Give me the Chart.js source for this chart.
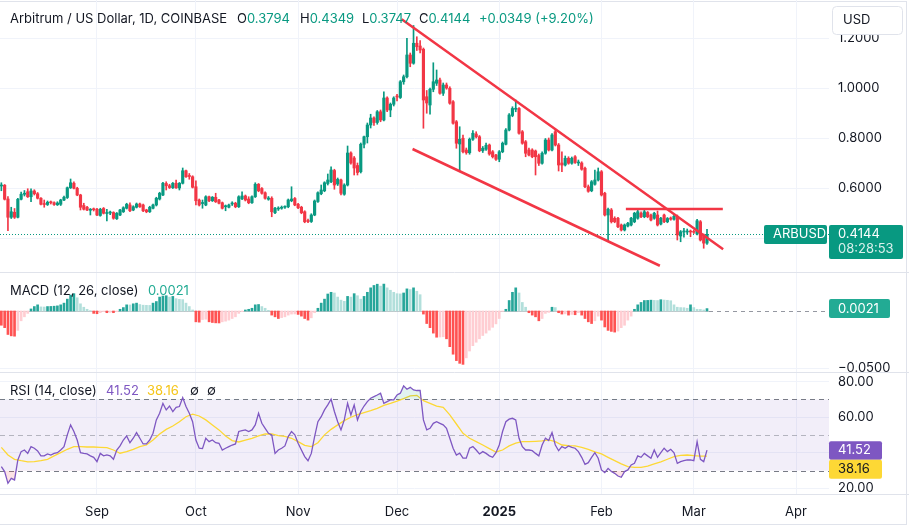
<!DOCTYPE html>
<html>
<head>
<meta charset="utf-8">
<script src="https://cdn.jsdelivr.net/npm/chart.js@4.4.1/dist/chart.umd.min.js"></script>
<style>
  html, body { margin: 0; padding: 0; background: #fff; }
  #wrap { position: relative; width: 909px; height: 526px; overflow: hidden; }
  #frame { position: absolute; left: -1px; top: 1px; width: 908px; height: 524px; border: 1px solid #e0e3eb; box-sizing: border-box; }
  canvas { position: absolute; left: 0; }
</style>
</head>
<body>
<div id="wrap">
  <div id="frame"></div>
  <canvas id="priceChart" width="909" height="272" style="top:0"></canvas>
  <canvas id="rsiChart" width="909" height="154" style="top:372px"></canvas>
  <canvas id="macdChart" width="909" height="110" style="top:272px"></canvas>
</div>
<script>
// daily candles, 3 Aug 2024 .. 5 Mar 2025 (x = day index)
const opens = [0.608,0.611,0.556,0.483,0.503,0.483,0.555,0.575,0.585,0.565,
  0.588,0.577,0.559,0.536,0.534,0.543,0.541,0.533,0.535,0.552,
  0.562,0.601,0.619,0.599,0.572,0.530,0.523,0.511,0.515,0.515,
  0.490,0.518,0.498,0.500,0.502,0.477,0.492,0.505,0.519,0.532,
  0.512,0.523,0.536,0.532,0.512,0.505,0.519,0.532,0.556,0.572,
  0.618,0.609,0.601,0.619,0.600,0.619,0.669,0.650,0.645,0.605,
  0.552,0.538,0.532,0.565,0.549,0.563,0.552,0.541,0.525,0.523,
  0.536,0.539,0.525,0.557,0.568,0.556,0.541,0.565,0.615,0.598,
  0.581,0.555,0.559,0.501,0.516,0.519,0.523,0.525,0.549,0.558,
  0.535,0.523,0.505,0.470,0.466,0.492,0.546,0.577,0.589,0.618,
  0.625,0.670,0.616,0.632,0.575,0.612,0.740,0.720,0.690,0.665,
  0.775,0.805,0.852,0.880,0.862,0.905,0.872,0.960,0.912,0.935,
  0.968,0.962,1.025,1.045,1.132,1.099,1.179,1.168,1.155,0.965,
  0.932,0.995,1.019,1.032,0.979,1.012,0.999,0.945,0.865,0.776,
  0.799,0.752,0.741,0.795,0.816,0.805,0.749,0.755,0.772,0.745,
  0.732,0.715,0.745,0.775,0.832,0.890,0.915,0.918,0.825,0.785,
  0.752,0.752,0.748,0.730,0.699,0.739,0.792,0.752,0.825,0.772,
  0.700,0.692,0.719,0.699,0.725,0.700,0.700,0.679,0.605,0.589,
  0.615,0.632,0.665,0.579,0.492,0.512,0.479,0.479,0.452,0.432,
  0.448,0.452,0.465,0.479,0.499,0.485,0.502,0.492,0.479,0.492,
  0.456,0.492,0.465,0.480,0.475,0.485,0.408,0.424,0.424,0.428,
  0.427,0.416,0.465,0.412,0.3794];
const highs = [0.621,0.614,0.566,0.523,0.518,0.559,0.584,0.590,0.597,0.597,
  0.593,0.582,0.562,0.552,0.548,0.548,0.545,0.545,0.555,0.568,
  0.604,0.636,0.625,0.603,0.575,0.539,0.527,0.518,0.520,0.519,
  0.519,0.522,0.515,0.508,0.505,0.502,0.515,0.525,0.539,0.541,
  0.529,0.540,0.540,0.536,0.515,0.527,0.536,0.563,0.583,0.623,
  0.625,0.615,0.622,0.632,0.622,0.680,0.672,0.658,0.649,0.629,
  0.556,0.552,0.569,0.568,0.566,0.579,0.555,0.544,0.532,0.536,
  0.545,0.543,0.569,0.585,0.572,0.565,0.569,0.621,0.618,0.602,
  0.585,0.566,0.565,0.523,0.525,0.528,0.529,0.556,0.605,0.562,
  0.539,0.527,0.509,0.476,0.497,0.552,0.585,0.612,0.625,0.656,
  0.685,0.675,0.640,0.636,0.617,0.768,0.745,0.726,0.700,0.780,
  0.808,0.860,0.895,0.885,0.910,0.912,0.985,0.965,0.940,0.965,
  0.975,1.030,1.052,1.199,1.140,1.250,1.205,1.190,1.160,0.990,
  1.000,1.101,1.072,1.040,1.020,1.020,1.005,0.950,0.870,0.845,
  0.812,0.760,0.800,0.830,0.825,0.810,0.766,0.780,0.776,0.750,
  0.735,0.750,0.784,0.838,0.898,0.925,0.952,0.922,0.830,0.790,
  0.760,0.757,0.752,0.736,0.745,0.798,0.800,0.818,0.835,0.778,
  0.745,0.728,0.725,0.724,0.730,0.712,0.705,0.684,0.612,0.630,
  0.672,0.680,0.670,0.583,0.520,0.518,0.485,0.483,0.456,0.456,
  0.463,0.483,0.503,0.512,0.505,0.512,0.506,0.496,0.503,0.508,
  0.483,0.496,0.482,0.484,0.492,0.492,0.430,0.439,0.436,0.432,
  0.432,0.475,0.470,0.416,0.4349];
const lows = [0.589,0.552,0.429,0.478,0.478,0.480,0.552,0.568,0.562,0.545,
  0.572,0.556,0.532,0.523,0.530,0.536,0.530,0.530,0.530,0.549,
  0.558,0.598,0.596,0.569,0.512,0.512,0.509,0.492,0.508,0.489,
  0.487,0.496,0.468,0.493,0.475,0.474,0.489,0.502,0.516,0.505,
  0.509,0.520,0.522,0.505,0.501,0.502,0.516,0.528,0.552,0.569,
  0.592,0.598,0.598,0.598,0.592,0.616,0.642,0.635,0.600,0.532,
  0.528,0.519,0.529,0.545,0.546,0.542,0.536,0.516,0.509,0.520,
  0.530,0.521,0.522,0.553,0.548,0.537,0.538,0.562,0.585,0.575,
  0.555,0.551,0.485,0.497,0.510,0.515,0.518,0.521,0.545,0.529,
  0.517,0.497,0.461,0.461,0.462,0.489,0.542,0.573,0.585,0.612,
  0.621,0.595,0.610,0.572,0.571,0.608,0.695,0.652,0.652,0.660,
  0.760,0.780,0.840,0.850,0.855,0.865,0.868,0.905,0.885,0.928,
  0.948,0.958,1.015,1.040,1.085,1.095,1.150,1.140,0.839,0.899,
  0.895,0.985,1.010,0.975,0.970,0.995,0.935,0.855,0.759,0.665,
  0.740,0.735,0.735,0.790,0.800,0.745,0.742,0.750,0.731,0.720,
  0.710,0.705,0.741,0.772,0.828,0.885,0.905,0.815,0.775,0.725,
  0.728,0.721,0.652,0.690,0.695,0.735,0.748,0.748,0.768,0.668,
  0.665,0.688,0.695,0.695,0.698,0.690,0.671,0.601,0.583,0.585,
  0.611,0.628,0.568,0.488,0.385,0.460,0.461,0.441,0.428,0.428,
  0.444,0.448,0.461,0.475,0.481,0.481,0.481,0.468,0.475,0.448,
  0.452,0.461,0.461,0.471,0.471,0.392,0.385,0.403,0.415,0.405,
  0.418,0.412,0.388,0.359,0.3747];
const closes = [0.611,0.555,0.483,0.505,0.483,0.555,0.575,0.579,0.565,0.588,
  0.577,0.559,0.535,0.534,0.543,0.541,0.534,0.540,0.552,0.563,
  0.601,0.621,0.599,0.572,0.523,0.515,0.512,0.513,0.513,0.492,
  0.515,0.499,0.500,0.502,0.479,0.499,0.512,0.521,0.535,0.509,
  0.525,0.536,0.525,0.509,0.505,0.523,0.532,0.559,0.579,0.619,
  0.609,0.602,0.619,0.601,0.619,0.669,0.645,0.646,0.603,0.549,
  0.532,0.541,0.565,0.549,0.563,0.545,0.539,0.519,0.527,0.532,
  0.540,0.525,0.565,0.568,0.552,0.541,0.565,0.615,0.589,0.579,
  0.559,0.560,0.505,0.519,0.519,0.523,0.525,0.552,0.556,0.532,
  0.521,0.501,0.465,0.466,0.492,0.548,0.581,0.592,0.621,0.632,
  0.672,0.612,0.635,0.579,0.612,0.740,0.700,0.680,0.662,0.775,
  0.805,0.852,0.880,0.862,0.905,0.872,0.960,0.912,0.935,0.960,
  0.964,1.025,1.045,1.132,1.099,1.179,1.165,1.152,0.952,0.940,
  0.995,1.025,1.032,0.979,1.012,1.000,0.939,0.859,0.779,0.795,
  0.745,0.741,0.795,0.819,0.805,0.749,0.759,0.771,0.736,0.725,
  0.715,0.745,0.779,0.832,0.892,0.918,0.918,0.819,0.779,0.739,
  0.732,0.725,0.725,0.699,0.739,0.792,0.752,0.812,0.772,0.692,
  0.692,0.719,0.699,0.719,0.702,0.702,0.675,0.605,0.587,0.625,
  0.632,0.665,0.572,0.492,0.515,0.465,0.465,0.445,0.432,0.452,
  0.459,0.479,0.499,0.505,0.485,0.505,0.485,0.472,0.499,0.452,
  0.479,0.465,0.478,0.475,0.487,0.412,0.425,0.427,0.427,0.424,
  0.423,0.469,0.392,0.3795,0.4144];

// MACD (12, 26) histogram
const macdHist = [-0.0125,-0.0146,-0.0206,-0.0218,-0.0221,-0.0170,-0.0086,-0.0051,-0.0021,0.0018,
  0.0039,0.0054,0.0036,0.0035,0.0039,0.0040,0.0042,0.0045,0.0054,0.0069,
  0.0104,0.0140,0.0152,0.0116,0.0063,0.0033,0.0015,0.0003,-0.0021,-0.0024,
  -0.0015,-0.0006,-0.0015,-0.0012,-0.0015,-0.0006,0.0015,0.0030,0.0054,0.0053,
  0.0063,0.0069,0.0057,0.0051,0.0050,0.0049,0.0069,0.0083,0.0122,0.0131,
  0.0134,0.0122,0.0128,0.0108,0.0102,0.0100,0.0069,0.0039,0.0009,-0.0095,
  -0.0098,-0.0075,-0.0072,-0.0095,-0.0101,-0.0104,-0.0105,-0.0095,-0.0089,-0.0080,
  -0.0066,-0.0051,-0.0021,-0.0006,0.0009,0.0015,0.0024,0.0054,0.0057,0.0039,
  0.0024,0.0006,-0.0036,-0.0051,-0.0066,-0.0058,-0.0051,-0.0036,-0.0027,-0.0026,
  -0.0030,-0.0045,-0.0066,-0.0080,-0.0060,-0.0015,0.0024,0.0069,0.0104,0.0149,
  0.0164,0.0158,0.0122,0.0095,0.0085,0.0128,0.0122,0.0152,0.0134,0.0104,
  0.0128,0.0164,0.0203,0.0224,0.0235,0.0218,0.0236,0.0203,0.0182,0.0164,
  0.0152,0.0150,0.0158,0.0194,0.0188,0.0203,0.0173,0.0143,-0.0027,-0.0110,
  -0.0146,-0.0194,-0.0230,-0.0228,-0.0226,-0.0244,-0.0313,-0.0379,-0.0435,-0.0459,
  -0.0468,-0.0411,-0.0351,-0.0304,-0.0274,-0.0244,-0.0215,-0.0194,-0.0168,-0.0143,
  -0.0113,-0.0066,-0.0003,0.0015,0.0092,0.0164,0.0203,0.0158,0.0075,0.0033,
  -0.0015,-0.0036,-0.0051,-0.0086,-0.0066,-0.0021,-0.0012,0.0033,0.0030,-0.0015,
  -0.0027,-0.0025,-0.0036,-0.0030,-0.0033,-0.0015,-0.0036,-0.0066,-0.0095,-0.0110,
  -0.0086,-0.0045,-0.0080,-0.0140,-0.0170,-0.0179,-0.0185,-0.0176,-0.0146,-0.0125,
  -0.0080,-0.0045,0.0015,0.0054,0.0075,0.0092,0.0093,0.0095,0.0093,0.0092,
  0.0099,0.0096,0.0094,0.0090,0.0054,0.0033,0.0030,0.0029,0.0024,0.0054,
  0.0030,0.0015,0.0014,0.0009,0.0021];

// RSI (14) and its moving average (read every 2nd day)
const rsiValues = [32.3,29.5,22.9,25.7,24.8,36.0,40.7,41.6,39.7,43.5,
  42.6,41.1,38.3,38.3,39.4,38.8,39.7,40.1,41.6,43.5,
  50.1,55.7,52.0,47.2,40.1,39.7,39.4,38.3,37.5,35.1,
  39.7,38.3,38.8,38.3,36.4,41.6,43.9,47.2,49.5,45.7,
  48.2,51.4,48.2,45.0,45.0,47.2,51.0,58.5,62.2,67.8,
  64.1,66.3,63.2,65.6,66.0,71.0,66.0,62.2,57.5,47.2,
  42.6,42.4,48.2,46.3,47.2,45.7,45.4,41.6,42.6,43.5,
  44.4,45.0,52.0,52.5,52.9,52.0,52.9,55.7,62.2,56.6,
  53.8,51.0,50.1,39.7,41.6,42.6,43.9,49.1,52.0,50.1,
  45.4,41.6,37.9,35.6,39.7,49.1,57.5,60.3,64.1,66.9,
  70.1,63.2,57.5,52.9,58.5,67.8,61.3,66.9,58.5,63.2,
  66.3,68.8,70.7,71.6,72.5,73.5,67.8,68.8,69.7,69.7,
  72.5,73.5,77.6,75.7,76.8,75.3,75.0,75.0,58.5,52.9,
  53.8,56.6,57.5,56.6,55.7,53.8,48.2,42.6,38.8,39.8,
  37.0,37.0,42.6,43.5,41.6,39.4,40.7,39.7,38.3,37.5,
  40.1,44.4,52.0,57.5,58.9,59.4,58.5,48.2,43.5,41.6,
  41.6,41.2,39.7,38.3,44.4,48.2,46.9,51.4,44.4,41.2,
  43.5,42.6,43.9,43.1,42.6,40.7,37.5,33.6,34.5,37.5,
  40.1,37.0,30.4,28.9,31.3,29.5,28.5,27.0,26.3,29.5,
  30.4,33.2,34.1,38.3,37.5,39.7,38.3,37.0,41.6,37.5,
  40.1,42.6,40.7,42.0,40.0,34.1,35.1,35.6,36.0,36.0,
  35.6,46.3,36.4,35.1,41.52];
const rsiMaStep = 2;
const rsiMaValues = [43.1,38.8,36.4,35.6,34.9,35.1,35.6,36.4,38.3,40.1,
  42.0,43.5,43.5,43.3,43.3,43.1,42.9,41.6,39.8,40.7,
  42.0,43.5,44.4,47.2,50.6,53.2,55.1,57.5,60.3,61.7,
  60.7,58.5,55.7,52.9,49.5,46.9,46.1,47.2,48.2,49.5,
  50.6,50.6,49.7,49.3,48.2,46.3,44.2,43.5,45.7,50.1,
  53.2,55.7,58.1,60.0,61.5,62.6,63.7,65.0,66.7,67.8,
  69.0,70.5,72.0,72.3,69.3,67.8,66.3,65.6,61.3,56.2,
  51.0,48.2,46.3,44.4,42.4,40.5,41.6,43.9,45.4,46.3,
  46.3,46.5,46.7,47.3,46.3,44.4,44.1,43.9,43.1,42.0,
  40.5,39.4,37.5,35.6,33.8,32.3,31.9,31.9,32.6,33.8,
  34.9,36.4,37.9,38.6,38.8,38.4,38.2,38.16];

// axis ticks (day index of the 1st of each month)
const monthTicks = [29, 59, 90, 120, 151, 182, 210, 241];
const monthLabels = ['Sep', 'Oct', 'Nov', 'Dec', '2025', 'Feb', 'Mar', 'Apr'];
const priceTicks = [0.4, 0.6, 0.8, 1.0, 1.2];
const macdTicks = [-0.05];
const rsiTicks = [20, 40, 60, 80];

// drawn trend lines: [day index, price]
const upperTrend = [{ x: 121.4, y: 1.275 }, { x: 218.9, y: 0.355 }];
const lowerTrend = [{ x: 124.7, y: 0.756 }, { x: 199.7, y: 0.289 }];
const resistance = [{ x: 189.4, y: 0.516 }, { x: 218.8, y: 0.516 }];

const GREEN = '#089981', RED = '#f23645', TEXT = '#131722';
const GRID = '#f0f3fa', SEP = '#e0e3eb';
const FONT = 'Inter, "Noto Sans", sans-serif';
const last = closes.length - 1;

function timeAxis(withLabels) {
  return {
    type: 'linear', min: -0.41, max: 251, offset: false,
    grid: { color: GRID, drawTicks: false, offset: false },
    border: { display: false },
    afterBuildTicks: s => { s.ticks = monthTicks.map(v => ({ value: v })); },
    afterFit: s => { s.paddingLeft = 0; s.paddingRight = 0; if (withLabels) s.height = 32; },
    ticks: withLabels ? {
      padding: 10, color: TEXT, maxRotation: 0, autoSkip: false,
      font: c => ({ family: FONT, size: 13, weight: c.tick && c.tick.value === 151 ? 'bold' : 'normal' }),
      callback: v => monthLabels[monthTicks.indexOf(v)]
    } : { display: false }
  };
}

function valueAxis(min, max, ticks, fmt) {
  return {
    position: 'right', min: min, max: max,
    grid: { color: GRID, drawTicks: false },
    border: { display: false },
    afterBuildTicks: s => { s.ticks = ticks.map(v => ({ value: v })); },
    afterFit: s => { s.width = 80; s.paddingTop = 0; s.paddingBottom = 0; },
    ticks: { padding: 9, color: TEXT, font: { family: FONT, size: 13 }, callback: fmt }
  };
}

function box(ctx, x, y, w, h, bg, txt, fg) {
  ctx.fillStyle = bg;
  ctx.beginPath();
  ctx.roundRect(x, y, w, h, 2);
  ctx.fill();
  if (txt) {
    ctx.fillStyle = fg;
    ctx.fillText(txt, x + 9, y + h / 2);
  }
}

function hline(ctx, y, x1, x2, color, dash) {
  ctx.save();
  ctx.strokeStyle = color;
  ctx.lineWidth = 1;
  ctx.setLineDash(dash || []);
  ctx.beginPath();
  ctx.moveTo(x1, Math.round(y) + 0.5);
  ctx.lineTo(x2, Math.round(y) + 0.5);
  ctx.stroke();
  ctx.restore();
}

const baseOptions = {
  responsive: false, animation: false, maintainAspectRatio: false,
  plugins: { legend: { display: false }, tooltip: { enabled: false } }
};

//가격 차트
const candleColors = closes.map((c, i) => c >= opens[i] ? GREEN : RED);
const trendStyle = { type: 'line', borderColor: RED, borderWidth: 2.5, pointRadius: 0, order: 0 };

new Chart(document.getElementById('priceChart'), {
  type: 'bar',
  data: {
    datasets: [
      Object.assign({ data: upperTrend }, trendStyle),
      Object.assign({ data: lowerTrend }, trendStyle),
      Object.assign({ data: resistance }, trendStyle),
      {
        data: opens.map((o, i) => ({ x: i, y: [o, closes[i]] })),
        backgroundColor: candleColors, barThickness: 2.5, minBarLength: 1, grouped: false, order: 1
      },
      {
        data: lows.map((l, i) => ({ x: i, y: [l, highs[i]] })),
        backgroundColor: candleColors, barThickness: 1, grouped: false, order: 2
      }
    ]
  },
  options: Object.assign({}, baseOptions, {
    scales: {
      x: timeAxis(false),
      y: valueAxis(0.264, 1.352, priceTicks, v => v.toFixed(4))
    }
  }),
  plugins: [{
    id: 'priceDecor',
    beforeDatasetsDraw(chart) {
      const y = chart.scales.y.getPixelForValue(closes[last]);
      hline(chart.ctx, y, chart.chartArea.left, chart.chartArea.right, GREEN, [1, 2]);
    },
    afterDraw(chart) {
      const ctx = chart.ctx;
      const y = chart.scales.y.getPixelForValue(closes[last]);
      ctx.save();
      ctx.font = '13px ' + FONT;
      ctx.textBaseline = 'middle';
      // 헤더
      ctx.fillStyle = TEXT;
      ctx.fillText('Arbitrum / US Dollar, 1D, COINBASE', 10, 19);
      const ohlc = [['O', opens[last], 237], ['H', highs[last], 300], ['L', lows[last], 362], ['C', closes[last], 419]];
      ohlc.forEach(p => {
        ctx.fillStyle = TEXT;
        ctx.fillText(p[0], p[2], 19);
        ctx.fillStyle = GREEN;
        ctx.fillText(p[1].toFixed(4), p[2] + ctx.measureText(p[0]).width, 19);
      });
      const chg = closes[last] - closes[last - 1];
      ctx.fillText('+' + chg.toFixed(4) + ' (+' + (chg / closes[last - 1] * 100).toFixed(2) + '%)', 479, 19);
      // 라벨
      box(ctx, 764, y - 9.5, 63, 19, GREEN, 'ARBUSD', '#fff');
      box(ctx, 829, y - 9.5, 74, 34, GREEN);
      ctx.fillStyle = '#fff';
      ctx.fillText(closes[last].toFixed(4), 838, y);
      ctx.fillStyle = 'rgba(255,255,255,0.85)';
      ctx.fillText('08:28:53', 838, y + 15);
      // USD
      ctx.fillStyle = '#fff';
      ctx.strokeStyle = SEP;
      ctx.beginPath();
      ctx.roundRect(832.5, 6.5, 70, 28, 4);
      ctx.fill();
      ctx.stroke();
      ctx.fillStyle = TEXT;
      ctx.fillText('USD', 843, 20.5);
      ctx.restore();
    }
  }]
});

//MACD
const histColors = macdHist.map((v, i) => {
  const p = i ? macdHist[i - 1] : v;
  if (v >= 0) return v >= p ? '#26a69a' : '#b2dfdb';
  return v <= p ? '#ff5252' : '#ffcdd2';
});

new Chart(document.getElementById('macdChart'), {
  type: 'bar',
  data: {
    datasets: [{
      data: macdHist.map((v, i) => ({ x: i, y: v })),
      backgroundColor: histColors, barThickness: 2, grouped: false
    }]
  },
  options: Object.assign({}, baseOptions, {
    layout: { padding: { bottom: 10 } },
    scales: {
      x: timeAxis(false),
      y: valueAxis(-0.0535, 0.0342, macdTicks, v => (v < 0 ? '\u2212' : '') + Math.abs(v).toFixed(4))
    }
  }),
  plugins: [{
    id: 'macdDecor',
    beforeDatasetsDraw(chart) {
      const ctx = chart.ctx, a = chart.chartArea;
      const y0 = chart.scales.y.getPixelForValue(0);
      const xl = chart.scales.x.getPixelForValue(last) + 2;
      hline(ctx, y0, a.left, xl, 'rgba(120,123,134,0.45)');
      hline(ctx, y0, xl, a.right, '#9598a1', [4, 4]);
    },
    afterDraw(chart) {
      const ctx = chart.ctx;
      hline(ctx, 0, 0, 909, SEP);
      ctx.save();
      ctx.font = '13px ' + FONT;
      ctx.textBaseline = 'middle';
      ctx.fillStyle = TEXT;
      ctx.fillText('MACD (12, 26, close)', 10, 19);
      ctx.fillStyle = '#22ab94';
      ctx.fillText(macdHist[last].toFixed(4), 148, 19);
      const y = chart.scales.y.getPixelForValue(macdHist[last]);
      box(ctx, 829, y - 9.5, 61, 19, '#22ab94', macdHist[last].toFixed(4), '#fff');
      ctx.restore();
    }
  }]
});

//RSI
new Chart(document.getElementById('rsiChart'), {
  type: 'line',
  data: {
    datasets: [
      {
        data: rsiValues.map((v, i) => ({ x: i, y: v })),
        borderColor: '#7e57c2', borderWidth: 1.3, pointRadius: 0, order: 0,
        fill: { target: { value: 70 }, above: 'rgba(8,153,129,0.12)', below: 'transparent' }
      },
      {
        data: rsiValues.map((v, i) => ({ x: i, y: v })),
        borderWidth: 0, pointRadius: 0, order: 2,
        fill: { target: { value: 30 }, above: 'transparent', below: 'rgba(242,54,69,0.14)' }
      },
      {
        data: rsiMaValues.map((v, k) => ({ x: k * rsiMaStep, y: v })),
        borderColor: '#fdd835', borderWidth: 1.3, pointRadius: 0, order: 1, fill: false
      }
    ]
  },
  options: Object.assign({}, baseOptions, {
    scales: {
      x: timeAxis(true),
      y: valueAxis(16.9, 85.4, rsiTicks, v => v.toFixed(2))
    }
  }),
  plugins: [{
    id: 'rsiDecor',
    beforeDatasetsDraw(chart) {
      const ctx = chart.ctx, a = chart.chartArea, ys = chart.scales.y;
      const top = ys.getPixelForValue(70), bot = ys.getPixelForValue(30);
      ctx.save();
      ctx.fillStyle = 'rgba(126,87,194,0.1)';
      ctx.fillRect(a.left, top, a.right - a.left, bot - top);
      ctx.restore();
      hline(ctx, top, a.left, a.right, '#787b86', [5, 4]);
      hline(ctx, ys.getPixelForValue(50), a.left, a.right, 'rgba(120,123,134,0.5)', [5, 4]);
      hline(ctx, bot, a.left, a.right, '#787b86', [5, 4]);
    },
    afterDraw(chart) {
      const ctx = chart.ctx, ys = chart.scales.y;
      hline(ctx, 0, 0, 909, SEP);
      hline(ctx, chart.chartArea.bottom, 0, 909, SEP);
      ctx.save();
      ctx.font = '13px ' + FONT;
      ctx.textBaseline = 'middle';
      ctx.fillStyle = TEXT;
      ctx.fillText('RSI (14, close)', 10, 19);
      ctx.fillStyle = '#7e57c2';
      ctx.fillText(rsiValues[last].toFixed(2), 106, 19);
      ctx.fillStyle = '#f5c518';
      ctx.fillText(rsiMaValues[rsiMaValues.length - 1].toFixed(2), 147, 19);
      ctx.fillStyle = TEXT;
      ctx.fillText('\u2205', 190, 19);
      ctx.fillText('\u2205', 207, 19);
      const y = ys.getPixelForValue(rsiValues[last]);
      box(ctx, 829, y - 9, 53, 18.5, '#7e57c2', rsiValues[last].toFixed(2), '#fff');
      box(ctx, 829, y + 9.5, 53, 19, '#fdd835', rsiMaValues[rsiMaValues.length - 1].toFixed(2), TEXT);
      ctx.restore();
    }
  }]
});
</script>
</body>
</html>
